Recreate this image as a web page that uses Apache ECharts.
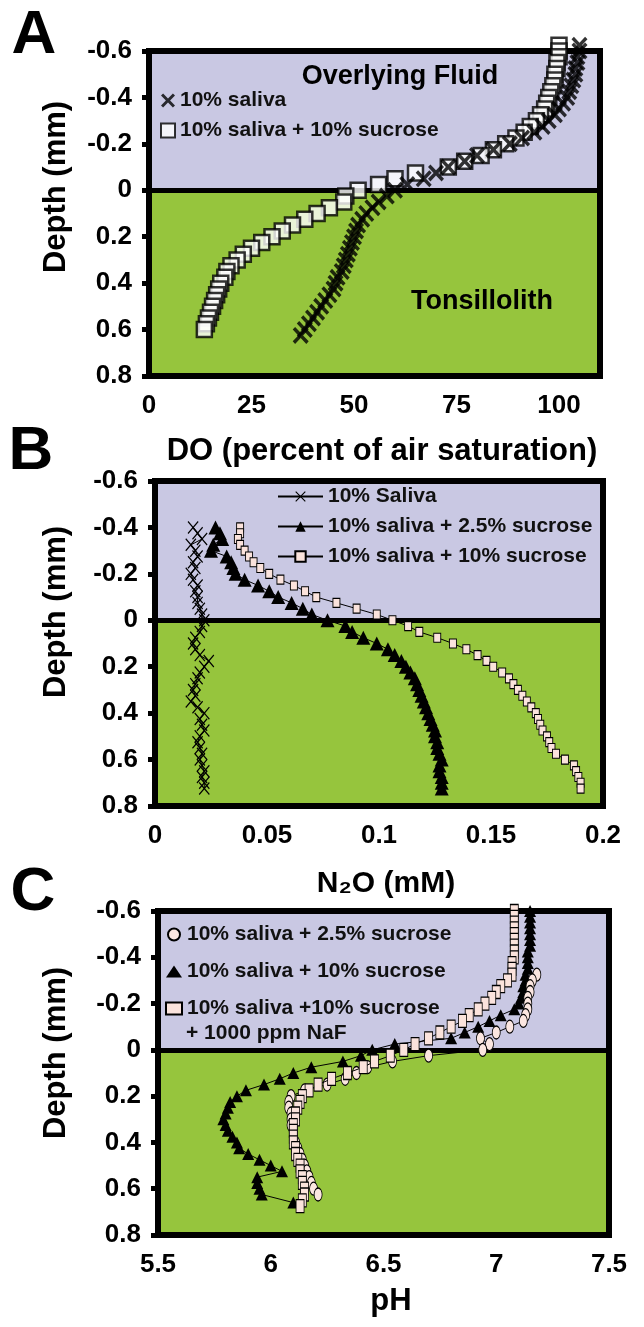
<!DOCTYPE html>
<html>
<head>
<meta charset="utf-8">
<title>Tonsillolith microprofiles</title>
<script src="https://cdn.jsdelivr.net/npm/echarts@6/dist/echarts.min.js"></script>
<style>
  html, body { margin: 0; padding: 0; background: #fff; }
  .panel { position: absolute; left: 0; top: 0; width: 644px; height: 1327px; }
</style>
</head>
<body>
<div id="chartA" class="panel"></div>
<div id="chartB" class="panel"></div>
<div id="chartC" class="panel"></div>
<script>
// ---- panel A : DO (% air saturation) vs depth ----
var aSalivaDepth = [-0.625,-0.6,-0.575,-0.55,-0.525,-0.5,-0.475,-0.45,-0.425,-0.4,-0.375,-0.35,-0.325,-0.3,-0.275,-0.25,-0.225,-0.2,-0.175,-0.15,-0.125,-0.1,-0.075,-0.05,-0.025,0,
  0.025,0.05,0.075,0.1,0.125,0.15,0.175,0.2,0.225,0.25,0.275,0.3,0.325,0.35,0.375,0.4,0.425,0.45,0.475,0.5,0.525,0.55,0.575,0.6,0.625];
var aSalivaDO = [105,105,104.5,104.5,104,104,103.5,103,102.5,102,101,100,99,97.5,96,94,91,88,84,80,77,73,70,67,63,60,
  58,56,54.5,53,52,51,50.5,50,49.5,49,48.5,48,47.5,47,46,45.5,45,44,43,42,41,40,39,38,37];
var aSucroseDepth = [-0.625,-0.6,-0.575,-0.55,-0.525,-0.5,-0.475,-0.45,-0.425,-0.4,-0.375,-0.35,-0.325,-0.3,-0.275,-0.25,-0.225,-0.2,-0.175,-0.15,-0.125,-0.1,-0.075,-0.05,-0.025,0,
  0.025,0.05,0.075,0.1,0.125,0.15,0.175,0.2,0.225,0.25,0.275,0.3,0.325,0.35,0.375,0.4,0.425,0.45,0.475,0.5,0.525,0.55,0.575,0.6];
var aSucroseDO = [100,100,100,99.5,99.5,99,99,98.5,98,97.5,97,96.5,95.5,94.5,93,91.5,89.5,87,84,81,77,73,65,60,56,51,
  48,47.5,44,41,38,35,32.5,30,27.5,25,23,21.5,20,19,18.5,17.5,17,16.5,16,15.5,15,14.5,14,13.5];
var aTicks = [0, 25, 50, 75, 100];

// ---- panel B : N2O (mM) vs depth ----
var bDepth = [-0.4,-0.375,-0.35,-0.325,-0.3,-0.275,-0.25,-0.225,-0.2,-0.175,-0.15,-0.125,-0.1,-0.075,-0.05,-0.025,0,
  0.025,0.05,0.075,0.1,0.125,0.15,0.175,0.2,0.225,0.25,0.275,0.3,0.325,0.35,0.375,0.4,0.425,0.45,0.475,0.5,0.525,0.55,0.575,0.6,0.625,0.65,0.675,0.7,0.725];
var bSaliva = [0.017,0.019,0.021,0.016,0.018,0.019,0.017,0.018,0.016,0.017,0.019,0.018,0.019,0.019,0.020,0.021,0.022,
  0.021,0.020,0.018,0.017,0.018,0.020,0.024,0.022,0.020,0.019,0.018,0.017,0.018,0.016,0.019,0.022,0.020,0.021,0.022,0.020,0.019,0.020,0.021,0.020,0.021,0.022,0.021,0.022,0.022];
var bSucrose25 = [0.027,0.029,0.030,0.026,0.025,0.032,0.034,0.035,0.036,0.040,0.046,0.051,0.055,0.061,0.066,0.070,0.077,
  0.085,0.088,0.093,0.099,0.104,0.107,0.110,0.112,0.114,0.116,0.117,0.118,0.119,0.120,0.121,0.122,0.123,0.124,0.125,0.125,0.126,0.126,0.127,0.128,0.127,0.127,0.128,0.128,0.128];
var bSucrose10 = [0.038,0.038,0.037,0.038,0.040,0.042,0.044,0.047,0.051,0.056,0.062,0.067,0.072,0.081,0.090,0.099,0.106,
  0.113,0.118,0.126,0.133,0.139,0.144,0.148,0.151,0.155,0.158,0.160,0.162,0.164,0.166,0.168,0.170,0.171,0.172,0.173,0.175,0.176,0.177,0.179,0.183,0.187,0.188,0.189,0.190,0.190];

// ---- panel C : pH vs depth ----
var cTriDepth = [-0.6,-0.575,-0.55,-0.525,-0.5,-0.475,-0.45,-0.425,-0.4,-0.375,-0.35,-0.325,-0.3,-0.275,-0.25,-0.225,-0.2,-0.175,-0.15,-0.125,-0.1,-0.075,-0.05,-0.025,0,
  0.025,0.05,0.075,0.1,0.125,0.15,0.175,0.2,0.225,0.25,0.275,0.3,0.325,0.35,0.375,0.4,0.425,0.45,0.475,0.5,0.525,0.55,0.575,0.6,0.625,0.66];
var cTriPH = [7.15,7.15,7.15,7.15,7.15,7.15,7.15,7.14,7.14,7.14,7.14,7.13,7.13,7.12,7.12,7.11,7.10,7.08,7.02,6.97,6.92,6.86,6.80,6.55,6.45,
  6.40,6.32,6.18,6.10,6.04,5.97,5.89,5.85,5.82,5.81,5.80,5.79,5.80,5.81,5.83,5.85,5.86,5.90,5.95,6.00,6.05,5.94,5.94,5.95,5.96,6.10];
var cCirDepth = [-0.325,-0.3,-0.275,-0.25,-0.225,-0.2,-0.175,-0.15,-0.125,-0.1,-0.075,-0.05,-0.025,0,
  0.025,0.05,0.075,0.1,0.125,0.15,0.175,0.2,0.225,0.25,0.275,0.3,0.325,0.35,0.375,0.4,0.425,0.45,0.475,0.5,0.525,0.55,0.575,0.6,0.625];
var cCirPH = [7.18,7.16,7.15,7.15,7.14,7.14,7.14,7.13,7.12,7.06,7.00,6.93,6.97,6.94,
  6.70,6.54,6.43,6.38,6.33,6.25,6.15,6.09,6.08,6.08,6.09,6.09,6.09,6.10,6.10,6.11,6.12,6.13,6.14,6.15,6.16,6.17,6.18,6.19,6.21];
var cNafDepth = [-0.6,-0.575,-0.55,-0.525,-0.5,-0.475,-0.45,-0.425,-0.4,-0.375,-0.35,-0.325,-0.3,-0.275,-0.25,-0.225,-0.2,-0.175,-0.15,-0.125,-0.1,-0.075,-0.05,-0.025,0,
  0.025,0.05,0.075,0.1,0.125,0.15,0.175,0.2,0.225,0.25,0.275,0.3,0.325,0.35,0.375,0.4,0.425,0.45,0.475,0.5,0.525,0.55,0.575,0.6,0.625,0.65,0.675];
var cNafPH = [7.08,7.08,7.08,7.08,7.08,7.08,7.08,7.08,7.08,7.07,7.07,7.07,7.05,7.02,7.00,6.98,6.95,6.92,6.88,6.85,6.80,6.75,6.70,6.64,6.59,
  6.53,6.46,6.41,6.34,6.27,6.21,6.17,6.14,6.13,6.12,6.11,6.11,6.10,6.10,6.10,6.10,6.11,6.11,6.12,6.13,6.13,6.14,6.14,6.15,6.15,6.14,6.13];

var FONT = '"Liberation Sans", Arial, sans-serif';
var LAVENDER = '#c9c8e3';
var GREEN = '#96c53d';
var XBOLD = 'path://M0,3 L3,0 L10,7 L17,0 L20,3 L13,10 L20,17 L17,20 L10,13 L3,20 L0,17 L7,10 Z';
var XTHIN = 'path://M0,1.5 L1.5,0 L10,8.5 L18.5,0 L20,1.5 L11.5,10 L20,18.5 L18.5,20 L10,11.5 L1.5,20 L0,18.5 L8.5,10 Z';
var ELLIPSE = 'path://M10,0 A10,10 0 1,1 10,20 A10,10 0 1,1 10,0 Z';

function pairs(xs, ys) {
  return xs.map(function (x, i) { return [x, ys[i]]; });
}
function tickText(v) { return String(Math.round(v * 100) / 100); }

function depthAxis() {
  return {
    type: 'value', inverse: true, min: -0.6, max: 0.8, interval: 0.2,
    axisLine: { show: false },
    axisTick: { show: true, inside: false, length: 7, lineStyle: { color: '#000', width: 5 } },
    splitLine: { show: false },
    axisLabel: { margin: 17, color: '#000', fontFamily: FONT, fontWeight: 'bold', fontSize: 26, formatter: tickText }
  };
}
function valueAxis(min, max, interval, ticks) {
  var ax = {
    type: 'value', min: min, max: max, interval: interval,
    axisLine: { show: false },
    axisTick: { show: true, inside: false, length: 7, lineStyle: { color: '#000', width: 5 } },
    splitLine: { show: false },
    axisLabel: { margin: 17, color: '#000', fontFamily: FONT, fontWeight: 'bold', fontSize: 26, formatter: tickText }
  };
  if (ticks) {
    ax.axisTick.customValues = ticks;
    ax.axisLabel.customValues = ticks;
  }
  return ax;
}
// lavender overlying fluid, green tonsillolith, black line at the surface
function zoneSeries(xMin, xMax) {
  return {
    type: 'scatter', data: [], silent: true, z: 1,
    markArea: {
      silent: true,
      data: [
        [{ xAxis: xMin, yAxis: -0.6, itemStyle: { color: LAVENDER, opacity: 1 } }, { xAxis: xMax, yAxis: 0 }],
        [{ xAxis: xMin, yAxis: 0, itemStyle: { color: GREEN, opacity: 1 } }, { xAxis: xMax, yAxis: 0.8 }]
      ]
    },
    markLine: {
      silent: true, symbol: 'none', label: { show: false },
      lineStyle: { color: '#000', width: 5, type: 'solid' },
      data: [{ yAxis: 0 }]
    }
  };
}
function frame(left, top, width, height) {
  return { left: left, top: top, width: width, height: height, show: true,
    borderColor: '#000', borderWidth: 6, backgroundColor: 'transparent', z: 20 };
}
function txt(x, y, text, size, extra) {
  var el = { type: 'text', x: x, y: y, z: 50,
    style: { text: text, fill: '#000', font: 'bold ' + size + 'px ' + FONT, align: 'center', verticalAlign: 'middle' } };
  if (extra) { for (var k in extra) el[k] = extra[k]; }
  return el;
}
function legendStyle(left, top, w, h, gap, names) {
  return { orient: 'vertical', left: left, top: top, padding: 0, itemWidth: w, itemHeight: h, itemGap: gap,
    selectedMode: false, data: names,
    textStyle: { fontFamily: FONT, fontWeight: 'bold', fontSize: 21, lineHeight: 21, color: '#111' } };
}

// ---------- A ----------
var chartA = echarts.init(document.getElementById('chartA'));
chartA.setOption({
  animation: false,
  grid: frame(149, 51, 451, 325),
  xAxis: valueAxis(0, 110, 25, aTicks),
  yAxis: depthAxis(),
  legend: legendStyle(160, 90, 14, 14, 9, ['10% saliva', '10% saliva + 10% sucrose']),
  graphic: [
    txt(34, 36, 'A', 62),
    txt(56, 187, 'Depth (mm)', 31, { rotation: Math.PI / 2 }),
    txt(400, 77, 'Overlying Fluid', 27),
    txt(482, 302, 'Tonsillolith', 27),
    txt(382, 451, 'DO (percent of air saturation)', 31)
  ],
  series: [
    zoneSeries(0, 110),
    { name: '10% saliva + 10% sucrose', type: 'scatter', z: 30, clip: false,
      data: pairs(aSucroseDO, aSucroseDepth), symbol: 'rect', symbolSize: 15,
      itemStyle: { color: '#fff', borderColor: '#000', borderWidth: 2.5 } },
    { name: '10% saliva', type: 'scatter', z: 31, clip: false,
      data: pairs(aSalivaDO, aSalivaDepth), symbol: XBOLD, symbolSize: [16, 17],
      itemStyle: { color: '#000' } }
  ]
});

// ---------- B ----------
var chartB = echarts.init(document.getElementById('chartB'));
chartB.setOption({
  animation: false,
  grid: frame(155, 481, 448, 325),
  xAxis: valueAxis(0, 0.2, 0.05),
  yAxis: depthAxis(),
  legend: legendStyle(277, 486, 45, 13, 9, ['10% Saliva', '10% saliva + 2.5% sucrose', '10% saliva + 10% sucrose']),
  graphic: [
    txt(31, 452, 'B', 62),
    txt(56, 612, 'Depth (mm)', 31, { rotation: Math.PI / 2 }),
    txt(386, 884, 'N\u2082O (mM)', 30)
  ],
  series: [
    zoneSeries(0, 0.2),
    { name: '10% Saliva', type: 'line', z: 30, clip: false, showSymbol: true, showAllSymbol: true,
      data: pairs(bSaliva, bDepth), symbol: XTHIN, symbolSize: [11, 13],
      lineStyle: { color: '#000', width: 1 }, itemStyle: { color: '#000' } },
    { name: '10% saliva + 2.5% sucrose', type: 'line', z: 31, clip: false, showSymbol: true, showAllSymbol: true,
      data: pairs(bSucrose25, bDepth), symbol: 'triangle', symbolSize: 14,
      lineStyle: { color: '#000', width: 1 }, itemStyle: { color: '#000' } },
    { name: '10% saliva + 10% sucrose', type: 'line', z: 32, clip: false, showSymbol: true, showAllSymbol: true,
      data: pairs(bSucrose10, bDepth), symbol: 'rect', symbolSize: [7, 9],
      lineStyle: { color: '#000', width: 1 }, itemStyle: { color: '#fbe3dc', borderColor: '#000', borderWidth: 1 } }
  ]
});

// ---------- C ----------
var chartC = echarts.init(document.getElementById('chartC'));
chartC.setOption({
  animation: false,
  grid: frame(158, 911, 451, 324),
  xAxis: valueAxis(5.5, 7.5, 0.5),
  yAxis: depthAxis(),
  legend: legendStyle(165, 924, 16, 12, 16, [
    { name: '10% saliva + 2.5% sucrose', icon: 'circle' },
    { name: '10% saliva + 10% sucrose', icon: 'triangle' },
    { name: '10% saliva +10% sucrose', icon: 'rect' }
  ]),
  graphic: [
    txt(33, 893, 'C', 62),
    txt(56, 1053, 'Depth (mm)', 31, { rotation: Math.PI / 2 }),
    txt(391, 1301, 'pH', 31),
    { type: 'text', x: 186, y: 1033, z: 50,
      style: { text: '+ 1000 ppm NaF', fill: '#111', font: 'bold 21px ' + FONT, align: 'left', verticalAlign: 'middle' } }
  ],
  series: [
    zoneSeries(5.5, 7.5),
    { name: '10% saliva + 10% sucrose', type: 'line', z: 30, clip: false, showSymbol: true, showAllSymbol: true,
      data: pairs(cTriPH, cTriDepth), symbol: 'triangle', symbolSize: 12,
      lineStyle: { color: '#000', width: 1 }, itemStyle: { color: '#000' } },
    { name: '10% saliva + 2.5% sucrose', type: 'line', z: 31, clip: false, showSymbol: true, showAllSymbol: true,
      data: pairs(cCirPH, cCirDepth), symbol: ELLIPSE, symbolSize: [8, 13],
      lineStyle: { color: '#000', width: 1 }, itemStyle: { color: '#fbe6e0', borderColor: '#000', borderWidth: 1 } },
    { name: '10% saliva +10% sucrose', type: 'line', z: 32, clip: false, showSymbol: true, showAllSymbol: true,
      data: pairs(cNafPH, cNafDepth), symbol: 'rect', symbolSize: [8, 13],
      lineStyle: { color: '#000', width: 1 }, itemStyle: { color: '#fbe3dc', borderColor: '#000', borderWidth: 1 } }
  ]
});
</script>
</body>
</html>
